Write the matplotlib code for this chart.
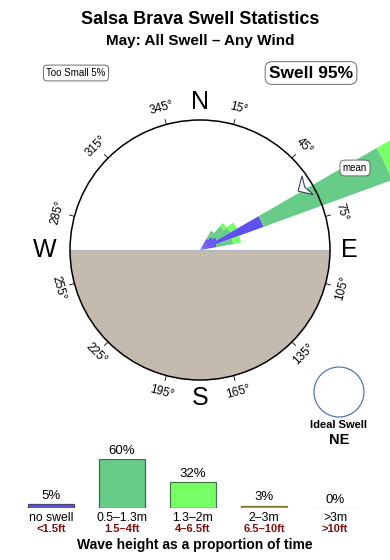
import numpy as np
import matplotlib
matplotlib.use("Agg")
import matplotlib.pyplot as plt
from matplotlib.patches import Wedge, Circle, Polygon

plt.rcParams['font.family'] = ['Liberation Sans', 'DejaVu Sans']

# swell rose: direction bins (deg) and stacked lengths (fraction of rose radius)
rose_dir = [35, 45, 55, 65, 75]
rose_blue = [0.10, 0.13, 0.15, 0.52, 0.13]
rose_green = [0.07, 0.11, 0.12, 1.05, 0.13]
rose_lgreen = [0.00, 0.03, 0.06, 0.60, 0.06]
mean_dir = 59

# wave height histogram
cats = ["no swell", "0.5\u20131.3m", "1.3\u20132m", "2\u20133m", ">3m"]
cats_ft = ["<1.5ft", "1.5\u20134ft", "4\u20136.5ft", "6.5\u201310ft", ">10ft"]
pct = [5, 60, 32, 3, 0]
bar_col = ["#5F50F0", "#66CC88", "#77FF66", "#BBBB33", "#D2C0C0"]
edge_col = ["#444466", "#446655", "#447744", "#777722", "#B8A8A8"]

deg_labels = [15, 45, 75, 105, 135, 165, 195, 225, 255, 285, 315, 345]

fig = plt.figure(figsize=(3.9, 5.6), dpi=100)
ax = fig.add_axes([0, 0, 1, 1])
ax.set_xlim(0, 390)
ax.set_ylim(0, 560)
ax.axis('off')

cx, cy, R = 200, 310, 130

def pol(b, r):
    a = np.radians(90 - b)
    return cx + r * np.cos(a), cy + r * np.sin(a)

# land (southern half)
ax.add_patch(Wedge((cx, cy), R, 180, 360, facecolor="#C4BAAE", edgecolor="none", zorder=1))
ax.plot([cx - R, cx + R], [cy, cy], color="#B0B8C4", lw=0.8, zorder=1.5)

# rose wedges
for d, b, g, lg in zip(rose_dir, rose_blue, rose_green, rose_lgreen):
    t1, t2 = 90 - d - 5, 90 - d + 5
    r0 = 0
    for val, col in [(b, "#5F50F0"), (g, "#66CC88"), (lg, "#77FF66")]:
        if val > 0:
            ax.add_patch(Wedge((cx, cy), (r0 + val) * R, t1, t2, width=val * R,
                               facecolor=col, edgecolor="none", zorder=2))
        r0 += val

# outer circle + ticks + labels
ax.add_patch(Circle((cx, cy), R, fill=False, edgecolor="black", lw=1.1, zorder=3))
for b in deg_labels:
    x1, y1 = pol(b, R)
    x2, y2 = pol(b, R + 5)
    ax.plot([x1, x2], [y1, y2], color="black", lw=0.6, zorder=3)
    rot = -b
    while rot < -90:
        rot += 180
    while rot > 90:
        rot -= 180
    tx, ty = pol(b, R * 1.13)
    ax.text(tx, ty, f"{b}\u00b0", fontsize=8.5, rotation=rot, ha='center', va='center',
            rotation_mode='anchor')

for lab, b, r in [("N", 0, 148), ("E", 90, 149), ("S", 180, 148), ("W", 270, 155)]:
    x, y = pol(b, r)
    ax.text(x, y, lab, fontsize=18, ha='center', va='center')

# mean direction marker
pts = [pol(mean_dir, 0.88 * R), pol(mean_dir - 5, 0.97 * R),
       pol(mean_dir, 0.94 * R), pol(mean_dir + 5, 0.97 * R)]
ax.add_patch(Polygon(pts, closed=True, facecolor="white", edgecolor="#334455", lw=0.8, zorder=4))
ax.text(355, 392, "mean", fontsize=7, ha='center', va='center',
        bbox=dict(boxstyle="round,pad=0.3,rounding_size=0.5", fc="white", ec="#555555", lw=0.6))

# titles and boxes
ax.text(200, 541, "Salsa Brava Swell Statistics", fontsize=13, fontweight='bold', ha='center', va='center')
ax.text(200, 519, "May: All Swell \u2013 Any Wind", fontsize=11, fontweight='bold', ha='center', va='center')
ax.text(76, 487, "Too Small 5%", fontsize=7, ha='center', va='center',
        bbox=dict(boxstyle="round,pad=0.3,rounding_size=0.4", fc="white", ec="#555555", lw=0.6))
ax.text(311, 487, "Swell 95%", fontsize=12.5, fontweight='bold', ha='center', va='center',
        bbox=dict(boxstyle="round,pad=0.22,rounding_size=0.4", fc="white", ec="#555555", lw=0.6))

# ideal swell
ax.add_patch(Circle((339, 168), 25, fill=False, edgecolor="#5577AA", lw=0.9))
ax.text(339, 135, "Ideal Swell", fontsize=8, fontweight='bold', ha='center', va='center')
ax.text(339, 120, "NE", fontsize=10.5, fontweight='bold', ha='center', va='center')

# bar chart
bx = fig.add_axes([15.5 / 390, 52 / 560, 355 / 390, 49 / 560])
bx.bar(range(len(pct)), pct, width=0.65, color=bar_col, edgecolor=edge_col, lw=0.9)
bx.set_xlim(-0.5, 4.5)
bx.set_ylim(0, 60)
bx.axis('off')
for i, v in enumerate(pct):
    bx.annotate(f"{v}%", (i, v), xytext=(0, 6), textcoords='offset points',
                ha='center', va='center', fontsize=9.5, annotation_clip=False)
    xf = (15.5 + (i + 0.5) * 71) / 390
    fig.text(xf, 42 / 560, cats[i], fontsize=8.8, ha='center', va='center')
    fig.text(xf, 31 / 560, cats_ft[i], fontsize=8, fontweight='bold', color="#801010",
             ha='center', va='center')
fig.text(0.5, 15 / 560, "Wave height as a proportion of time", fontsize=10, fontweight='bold',
         ha='center', va='center')

fig.savefig("out.png", dpi=100)
